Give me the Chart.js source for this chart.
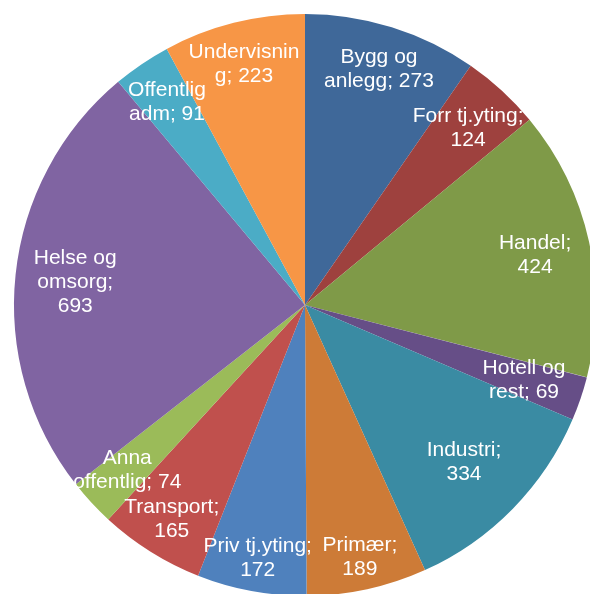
<!DOCTYPE html>
<html>
<head>
<meta charset="utf-8">
<script src="https://cdn.jsdelivr.net/npm/chart.js@4/dist/chart.umd.min.js"></script>
<style>
    html, body { margin: 0; padding: 0; background: #fff; overflow: hidden; }
    #wrap { position: absolute; left: 0; top: 0; width: 600px; height: 600px; }
</style>
</head>
<body>
<div id="wrap"><canvas id="pie"></canvas></div>
<script>
// data, clockwise from 12 o'clock
const categories = ['Bygg og anlegg', 'Forr tj.yting', 'Handel', 'Hotell og rest', 'Industri', 'Primær',
    'Priv tj.yting', 'Transport', 'Anna offentlig', 'Helse og omsorg', 'Offentlig adm', 'Undervisning'];
const values = [273, 124, 424, 69, 334, 189, 172, 165, 74, 693, 91, 223];
// label text as wrapped in the picture, {v} = value
const labelTemplates = ['Bygg og|anlegg; {v}', 'Forr tj.yting;|{v}', 'Handel;|{v}', 'Hotell og|rest; {v}',
    'Industri;|{v}', 'Primær;|{v}', 'Priv tj.yting;|{v}', 'Transport;|{v}', 'Anna|offentlig; {v}',
    'Helse og|omsorg;|{v}', 'Offentlig|adm; {v}', 'Undervisnin|g; {v}'];

const sliceColors = ['#3F6899', '#9E413E', '#7F9A48', '#664E87', '#3A8BA3', '#CD7B37',
    '#4F81BD', '#C0504D', '#9BBB59', '#8064A2', '#4BACC6', '#F79646'];
// how far out (share of radius) each label sits
const labelDepth = [0.852, 0.828, 0.81, 0.795, 0.765, 0.883, 0.883, 0.863, 0.832, 0.794, 0.845, 0.856];

const sliceLabels = {
    id: 'sliceLabels',
    afterDatasetsDraw(chart) {
        const ctx = chart.ctx;
        const arcs = chart.getDatasetMeta(0).data;
        ctx.save();
        ctx.fillStyle = '#ffffff';
        ctx.font = '21px "Liberation Sans", Arial, sans-serif';
        ctx.textAlign = 'center';
        ctx.textBaseline = 'middle';
        const lineH = 24;
        arcs.forEach((arc, i) => {
            const mid = (arc.startAngle + arc.endAngle) / 2;
            const r = arc.outerRadius * labelDepth[i];
            const cx = arc.x + Math.cos(mid) * r;
            const cy = arc.y + Math.sin(mid) * r + 1;
            const lines = labelTemplates[i].replace('{v}', values[i]).split('|');
            const top = cy - (lines.length - 1) * lineH / 2;
            lines.forEach((line, k) => ctx.fillText(line, cx, top + k * lineH));
        });
        ctx.restore();
    }
};

new Chart(document.getElementById('pie'), {
    type: 'pie',
    data: {
        labels: categories,
        datasets: [{
            data: values,
            backgroundColor: sliceColors,
            borderWidth: 0
        }]
    },
    options: {
        responsive: true,
        maintainAspectRatio: false,
        animation: false,
        layout: { padding: { left: 14, top: 14, right: 4, bottom: 4 } },
        plugins: {
            legend: { display: false },
            tooltip: { enabled: false }
        }
    },
    plugins: [sliceLabels]
});
</script>
</body>
</html>
